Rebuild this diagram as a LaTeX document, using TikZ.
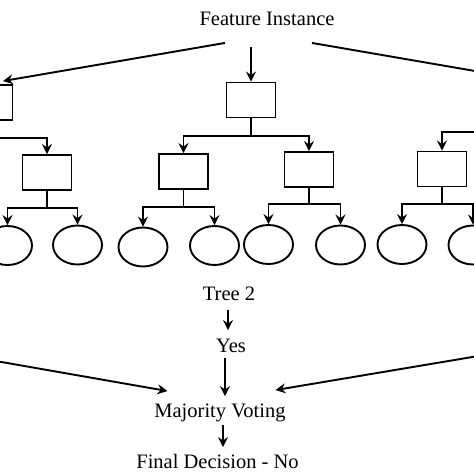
\documentclass[tikz,border=0pt]{standalone}
\usepackage{fontspec}
\setmainfont{Liberation Serif}
\usetikzlibrary{arrows.meta,shapes.geometric,calc}
\begin{document}
\begin{tikzpicture}[x=1pt,y=-1pt,
  line width=1.9pt,
  arr/.style={-{Stealth[length=10pt,width=10pt,inset=3.5pt]}},
  box/.style={draw,rectangle,minimum width=49pt,minimum height=35pt,inner sep=0pt},
  leaf/.style={draw,ellipse,minimum width=49pt,minimum height=39pt,inner sep=0pt},
  lbl/.style={inner sep=0pt,font=\fontsize{20.5}{24}\selectfont,text height=14pt,text depth=4pt}]
\useasboundingbox (0,0) rectangle (474,474);
\fill[white] (0,0) rectangle (474,474);
\clip (0,0) rectangle (474,474);

% top label
\node[lbl] (FI) at (267,20) {Feature Instance};

% tree tops
\node[box] (T1) at (-12,102.5) {};
\node[box] (T2) at (251,100) {};
\coordinate (T3) at (509,100);
\coordinate (T3b) at (509,116);
\coordinate (T1l) at (-80,137.5);

% second level
\node[box] (C12) at (47,172.5) {};
\node[box] (C21) at (183.5,171.5) {};
\node[box] (C22) at (309,169.5) {};
\node[box] (C31) at (442,169) {};

% leaves
\node[leaf] (L121) at (7.5,245.5) {};
\node[leaf] (L122) at (77.5,245) {};
\node[leaf] (L211) at (143,247) {};
\node[leaf] (L212) at (214.5,245.5) {};
\node[leaf] (L221) at (268.5,244.5) {};
\node[leaf] (L222) at (340.5,245) {};
\node[leaf] (L311) at (402,244.5) {};
\node[leaf] (L312) at (473,245) {};

% from feature instance
\draw[arr] ($(FI.south)+(-42,13)$) -- ($(T1.north)+(15,-3)$);
\draw[arr] ($(FI.south -| T2.north)+(0,17)$) -- (T2.north);
\draw[arr] ($(FI.south)+(45,13)$) -- ($(T3)+(-5,-24)$);

% tree edges
\draw[arr] (T1.south) -- ++(0,17) -| (C12.north);
\draw (T1.south) -- ++(0,17) -- (T1l);
\draw[arr] (T2.south) -- ++(0,17.5) -| (C21.north);
\draw[arr] (T2.south) -- ++(0,17.5) -| (C22.north);
\draw[arr] (T3b) -- ++(0,16) -| (C31.north);

\draw[arr] (C12.south) -- ++(0,17) -| (L121.north);
\draw[arr] (C12.south) -- ++(0,17) -| (L122.north);
\draw[arr] (C21.south) -- ++(0,17) -| (L211.north);
\draw[arr] (C21.south) -- ++(0,17) -| (L212.north);
\draw[arr] (C22.south) -- ++(0,16) -| (L221.north);
\draw[arr] (C22.south) -- ++(0,16) -| (L222.north);
\draw[arr] (C31.south) -- ++(0,16.5) -| (L311.north);
\draw[arr] (C31.south) -- ++(0,16.5) -| (L312.north);

% voting part
\node[lbl] (TR) at (229,295) {Tree 2};
\node[lbl] (YES) at (231,347) {Yes};
\node[lbl] (MV) at (220,412) {Majority Voting};
\node[lbl] (FD) at (217.5,463) {Final Decision - No};

\draw[arr] ($(TR.south)+(-1,5)$) -- ($(TR.south |- YES.north)+(-1,-7)$);
\draw[arr] ($(YES.south)+(-6,1)$) -- ($(YES.south |- MV.north)+(-6,-6)$);
\draw[arr] ($(MV.south)+(3,3)$) -- ($(MV.south |- FD.north)+(3,-6)$);

\coordinate (Lres) at (-50,353);
\coordinate (Rres) at (520,349);
\draw[arr] (Lres) -- ($(MV.north west)+(14,-11)$);
\draw[arr] (Rres) -- ($(MV.north east)+(-11,-12)$);
\end{tikzpicture}
\end{document}
